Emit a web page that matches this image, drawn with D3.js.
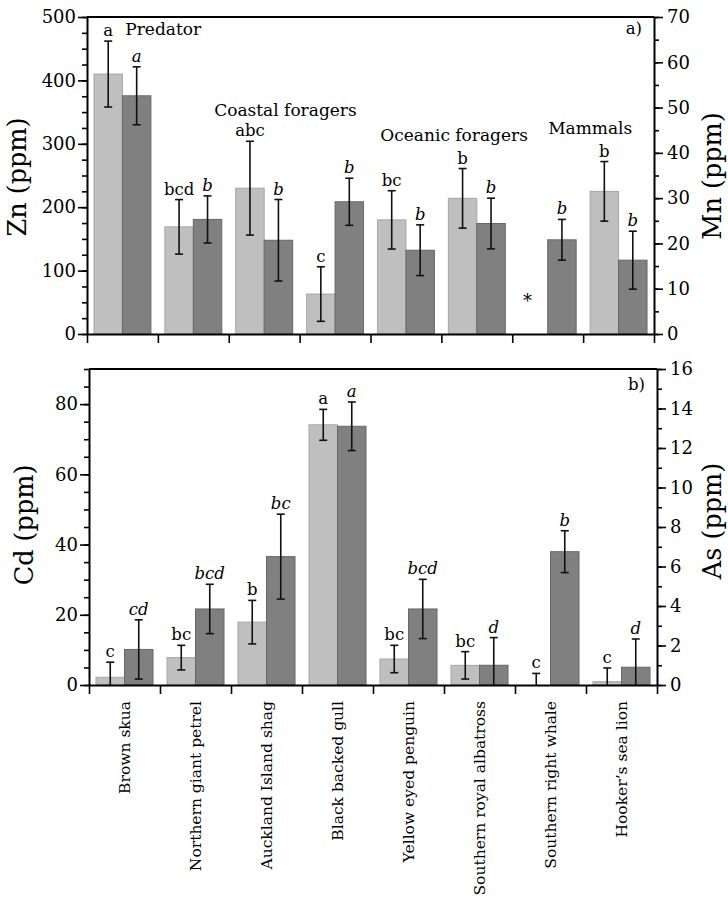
<!DOCTYPE html>
<html lang="en">
<head>
<meta charset="UTF-8">
<title>Zn, Mn, Cd and As by species</title>
<script src="https://d3js.org/d3.v7.min.js"></script>
<style>
  body { margin: 0; background: #fff; }
  svg { display: block; font-family: "DejaVu Serif", serif; }
</style>
</head>
<body>
<svg id="chart" width="728" height="898"></svg>
<script>
// categories
const species = ["Brown skua", "Northern giant petrel", "Auckland Island shag", "Black backed gull",
  "Yellow eyed penguin", "Southern royal albatross", "Southern right whale", "Hooker\u2019s sea lion"];

// panel a) - light bars Zn (left axis), dark bars Mn (right axis)
const znMean = [410, 169, 230, 63, 180, 214, null, 225];
const znErr  = [52, 43, 74, 43, 46, 47, null, 47];
const znLetters = ["a", "bcd", "abc", "c", "bc", "b", "", "b"];
const mnMean = [52.6, 25.3, 20.7, 29.2, 18.5, 24.4, 20.8, 16.3];
const mnErr  = [6.4, 5.2, 9.0, 5.2, 5.6, 5.6, 4.5, 6.4];
const mnLetters = ["a", "b", "b", "b", "b", "b", "b", "b"];

// panel b) - light bars Cd (left axis), dark bars As (right axis)
const cdMean = [2.2, 7.8, 17.9, 74.1, 7.4, 5.6, 0, 0.95];
const cdErr  = [4.3, 3.5, 6.2, 4.4, 3.9, 3.9, 3.3, 3.9];
const cdLetters = ["c", "bc", "b", "a", "bc", "bc", "c", "c"];
const asMean = [1.8, 3.85, 6.5, 13.1, 3.85, 1.0, 6.75, 0.9];
const asErr  = [1.5, 1.25, 2.15, 1.23, 1.5, 1.4, 1.06, 1.43];
const asLetters = ["cd", "bcd", "bc", "a", "bcd", "d", "b", "d"];

// feeding group labels (category index, Zn value)
const groups = [
  { text: "Predator", at: 0.54, zn: 471, anchor: "start" },
  { text: "Coastal foragers", at: 2.8, zn: 344, anchor: "middle" },
  { text: "Oceanic foragers", at: 5.18, zn: 304, anchor: "middle" },
  { text: "Mammals", at: 7.1, zn: 315, anchor: "middle" }
];

const LIGHT = "#bfbfbf", LIGHT_EDGE = "#a6a6a6";
const DARK = "#808080", DARK_EDGE = "#676767";

const svg = d3.select("#chart");

function drawPanel(p) {
  const g = svg.append("g");
  const x = d3.scaleBand(species, [p.x0, p.x1]).padding(0);
  const sub = d3.scaleBand(["l", "d"], [0, x.bandwidth()]).paddingInner(0).paddingOuter(0.245);
  const yL = d3.scaleLinear(p.left.domain, [p.y1, p.y0]);
  const yR = d3.scaleLinear(p.right.domain, [p.y1, p.y0]);

  const rows = species.map((s, i) => ({
    s, i,
    lv: p.lMean[i], le: p.lErr[i], lt: p.lLet[i],
    dv: p.dMean[i], de: p.dErr[i], dt: p.dLet[i]
  }));

  // bars
  g.selectAll(".lbar").data(rows.filter(d => d.lv != null && d.lv > 0)).join("rect")
    .attr("x", d => x(d.s) + sub("l")).attr("width", sub.bandwidth())
    .attr("y", d => yL(d.lv)).attr("height", d => yL(0) - yL(d.lv))
    .attr("fill", LIGHT).attr("stroke", LIGHT_EDGE).attr("stroke-width", 1);
  g.selectAll(".dbar").data(rows).join("rect")
    .attr("x", d => x(d.s) + sub("d")).attr("width", sub.bandwidth())
    .attr("y", d => yR(d.dv)).attr("height", d => yR(0) - yR(d.dv))
    .attr("fill", DARK).attr("stroke", DARK_EDGE).attr("stroke-width", 1);

  // error bars and letters
  function errs(list, y, key, italic) {
    list.forEach(d => {
      const v = d[key + "v"], e = d[key + "e"], t = d[key + "t"];
      if (v == null) return;
      const cx = x(d.s) + sub(key) + sub.bandwidth() / 2;
      const lo = Math.max(0, v - e), hi = v + e;
      const eg = g.append("g").attr("stroke", "#111").attr("stroke-width", 1.6);
      eg.append("line").attr("x1", cx).attr("x2", cx).attr("y1", y(lo)).attr("y2", y(hi));
      eg.append("line").attr("x1", cx - 4).attr("x2", cx + 4).attr("y1", y(hi)).attr("y2", y(hi));
      if (v - e > 0) eg.append("line").attr("x1", cx - 4).attr("x2", cx + 4).attr("y1", y(lo)).attr("y2", y(lo));
      if (t) g.append("text").attr("x", cx).attr("y", y(hi) - 5)
        .attr("text-anchor", "middle").attr("font-size", 16.5)
        .attr("font-style", italic ? "italic" : null).text(t);
    });
  }
  errs(rows, yL, "l", false);
  errs(rows, yR, "d", true);

  // frame top
  g.append("line").attr("x1", p.x0).attr("x2", p.x1).attr("y1", p.y0).attr("y2", p.y0)
    .attr("stroke", "#000").attr("stroke-width", 2);

  // y axes: minor + major
  function yAxis(scale, cfg, side) {
    const xpos = side === "left" ? p.x0 : p.x1;
    const mk = side === "left" ? d3.axisLeft : d3.axisRight;
    const [a, b] = cfg.domain;
    const minors = d3.range(a, b + 1e-9, cfg.minor);
    const majors = d3.range(a, b + 1e-9, cfg.major);
    const am = g.append("g").attr("transform", `translate(${xpos},0)`)
      .call(mk(scale).tickValues(minors).tickSize(5).tickSizeOuter(0).tickFormat(""));
    am.select(".domain").remove();
    const aM = g.append("g").attr("transform", `translate(${xpos},0)`)
      .call(mk(scale).tickValues(majors).tickSize(9).tickSizeOuter(0).tickPadding(side === "left" ? 2 : 4));
    aM.select(".domain").attr("stroke-width", 2);
    [am, aM].forEach(s => s.selectAll(".tick line").attr("stroke-width", 1.6));
    aM.selectAll("text").attr("font-size", 18).attr("font-family", "DejaVu Serif");
  }
  yAxis(yL, p.left, "left");
  yAxis(yR, p.right, "right");

  // x axis with category boundary ticks
  const xb = d3.scaleLinear([0, species.length], [p.x0, p.x1]);
  const ax = g.append("g").attr("transform", `translate(0,${p.y1})`)
    .call(d3.axisBottom(xb).tickValues(d3.range(0, species.length + 1)).tickSize(9).tickSizeOuter(0).tickFormat(""));
  ax.select(".domain").attr("stroke-width", 2);
  ax.selectAll(".tick line").attr("stroke-width", 1.6);

  // axis titles
  g.append("text").attr("transform", `translate(${p.lTitleX},${p.lTitleY}) rotate(-90)`)
    .attr("text-anchor", "middle").attr("dy", "0.35em").attr("font-size", 25.5).text(p.left.title);
  g.append("text").attr("transform", `translate(${p.rTitleX},${p.rTitleY}) rotate(-90)`)
    .attr("text-anchor", "middle").attr("dy", "0.35em").attr("font-size", 25.5).text(p.right.title);

  // panel tag
  g.append("text").attr("x", p.x1 - 12).attr("y", p.tagY).attr("text-anchor", "end")
    .attr("font-size", 16.5).text(p.tag);

  return { g, x, sub, yL, yR, xb };
}

const panelA = drawPanel({
  x0: 87, x1: 654, y0: 17, y1: 334,
  left: { domain: [0, 500], major: 100, minor: 25, title: "Zn (ppm)" },
  right: { domain: [0, 70], major: 10, minor: 5, title: "Mn (ppm)" },
  lMean: znMean, lErr: znErr, lLet: znLetters,
  dMean: mnMean, dErr: mnErr, dLet: mnLetters,
  lTitleX: 17, lTitleY: 177, rTitleX: 712, rTitleY: 176,
  tag: "a)", tagY: 34
});

const panelB = drawPanel({
  x0: 89, x1: 657, y0: 369, y1: 685,
  left: { domain: [0, 90], major: 20, minor: 5, title: "Cd (ppm)" },
  right: { domain: [0, 16], major: 2, minor: 1, title: "As (ppm)" },
  lMean: cdMean, lErr: cdErr, lLet: cdLetters,
  dMean: asMean, dErr: asErr, dLet: asLetters,
  lTitleX: 24, lTitleY: 525, rTitleX: 712, rTitleY: 521,
  tag: "b)", tagY: 390
});

// group labels in panel a)
panelA.g.selectAll(".grp").data(groups).join("text")
  .attr("x", d => panelA.xb(d.at)).attr("y", d => panelA.yL(d.zn))
  .attr("text-anchor", d => d.anchor).attr("font-size", 17).text(d => d.text);

// missing Zn value for the whale
const iW = species.indexOf("Southern right whale");
panelA.g.append("text")
  .attr("x", panelA.x(species[iW]) + panelA.sub("l") + panelA.sub.bandwidth() / 2 - 6)
  .attr("y", panelA.yL(42))
  .attr("text-anchor", "middle").attr("font-size", 18).text("*");

// species names under panel b)
panelB.g.selectAll(".sp").data(species).join("text")
  .attr("transform", d => `translate(${panelB.x(d) + panelB.x.bandwidth() / 2},701) rotate(-90)`)
  .attr("text-anchor", "end").attr("dy", "0.35em").attr("font-size", 15.5).text(d => d);
</script>
</body>
</html>
